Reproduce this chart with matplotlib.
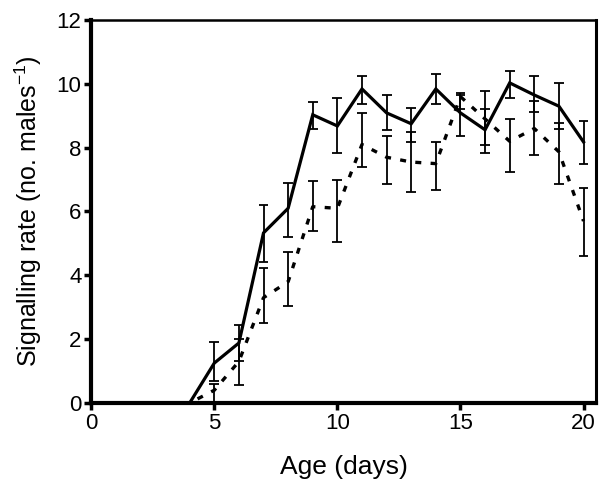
import matplotlib
matplotlib.use('Agg')
import matplotlib.pyplot as plt

plt.rcParams['font.family'] = ['Liberation Sans', 'DejaVu Sans']
plt.rcParams['mathtext.fontset'] = 'custom'
plt.rcParams['mathtext.rm'] = 'Liberation Sans'
plt.rcParams['mathtext.it'] = 'Liberation Sans'

# age in days
days = list(range(0, 21))

# solid line series (mean and error bar ends)
solid = [0, 0, 0, 0, 0, 1.25, 1.88, 5.33, 6.1, 9.03, 8.68,
         9.84, 9.09, 8.75, 9.84, 9.09, 8.56, 10.03, 9.65, 9.3, 8.18]
solid_hi = [None, None, None, None, None, 1.91, 2.45, 6.2, 6.9, 9.43, 9.55,
            10.25, 9.65, 9.25, 10.3, 9.65, 9.2, 10.4, 10.25, 10.03, 8.84]
solid_lo = [None, None, None, None, None, 0.69, 1.3, 4.42, 5.2, 8.6, 7.84,
            9.37, 8.56, 8.18, 9.37, 8.37, 8.09, 9.55, 9.12, 8.6, 7.49]

# dashed line series
dashed = [0, 0, 0, 0, 0, 0.4, 1.3, 3.3, 3.8, 6.15, 6.1,
          8.1, 7.7, 7.55, 7.5, 9.6, 8.9, 8.2, 8.6, 7.87, 5.7]
dashed_hi = [None, None, None, None, None, 0.6, 2.0, 4.23, 4.73, 6.97, 7.0,
             9.09, 8.37, 8.5, 8.18, 9.7, 9.78, 8.9, 9.47, 8.78, 6.74]
dashed_lo = [None, None, None, None, None, 0.0, 0.56, 2.5, 3.04, 5.39, 5.04,
             7.4, 6.86, 6.6, 6.68, 9.2, 7.84, 7.25, 7.78, 6.86, 4.6]

fig = plt.figure(figsize=(6.08, 4.93), dpi=100)
ax = fig.add_axes([0.150, 0.1826, 0.830, 0.7768])

ax.plot(days, solid, color='black', lw=2.3, solid_joinstyle='miter', zorder=3)
ax.plot(days, dashed, color='black', lw=2.4, linestyle=(0, (1.8, 2.8)), zorder=3)

# error bars
def draw_errors(hi, lo):
    for d, h, l in zip(days, hi, lo):
        if h is None:
            continue
        ax.vlines(d, l, h, color='black', lw=1.3, zorder=2)
        ax.hlines([l, h], d - 0.2, d + 0.2, color='black', lw=1.3, zorder=2)

draw_errors(solid_hi, solid_lo)
draw_errors(dashed_hi, dashed_lo)

ax.set_xlim(0, 20.5)
ax.set_ylim(0, 12)
ax.set_xticks([0, 5, 10, 15, 20])
ax.set_yticks([0, 2, 4, 6, 8, 10, 12])
ax.tick_params(direction='out', length=5, width=2.5, labelsize=16, pad=2)

ax.spines['left'].set_linewidth(3)
ax.spines['bottom'].set_linewidth(3)
ax.spines['top'].set_linewidth(1.8)
ax.spines['right'].set_linewidth(2.2)

ax.set_xlabel('Age (days)', fontsize=19, labelpad=15)
ax.set_ylabel('Signalling rate (no. males$^{-1}$)', fontsize=18, labelpad=9)

fig.savefig('out.png', dpi=100)
